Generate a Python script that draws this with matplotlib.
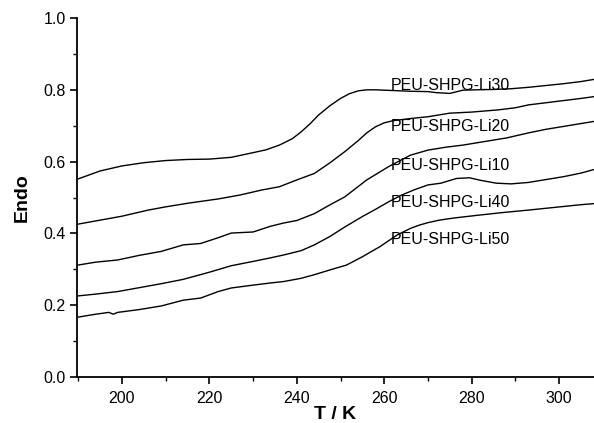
import matplotlib
matplotlib.use("Agg")
import matplotlib.pyplot as plt
from matplotlib.ticker import MultipleLocator, FormatStrFormatter

plt.rcParams['font.family'] = ['Liberation Sans', 'DejaVu Sans']

# Temperature (K) and Endo values
t_li30 = [190, 195, 200, 205, 210, 215, 220, 225, 230, 233, 236, 239, 241, 243, 245, 247.5, 250, 252, 254, 256, 258, 262, 266, 270, 272, 275, 278, 281, 285, 289, 293, 297, 301, 305, 308]
y_li30 = [0.552, 0.574, 0.588, 0.597, 0.603, 0.606, 0.607, 0.612, 0.625, 0.633, 0.646, 0.664, 0.683, 0.705, 0.730, 0.755, 0.776, 0.789, 0.797, 0.800, 0.800, 0.798, 0.796, 0.795, 0.792, 0.790, 0.799, 0.800, 0.801, 0.803, 0.807, 0.812, 0.817, 0.823, 0.829]

t_li20 = [190, 195, 200, 206, 210, 215, 222, 227, 232, 236, 240, 244, 247.5, 251, 254, 256, 258, 260, 262, 266, 270, 275, 280, 286, 290, 293, 297, 301, 305, 308]
y_li20 = [0.426, 0.437, 0.448, 0.465, 0.474, 0.484, 0.496, 0.507, 0.521, 0.530, 0.549, 0.567, 0.596, 0.628, 0.658, 0.680, 0.697, 0.708, 0.714, 0.720, 0.725, 0.735, 0.738, 0.744, 0.750, 0.758, 0.764, 0.770, 0.776, 0.781]

t_li10 = [190, 194, 199, 204, 209, 214, 218, 222, 225, 230, 234, 237, 240, 244, 247.5, 251, 256, 261, 266, 270, 274, 278, 283, 288, 293, 297, 301, 305, 308]
y_li10 = [0.312, 0.320, 0.326, 0.339, 0.350, 0.368, 0.372, 0.388, 0.401, 0.404, 0.420, 0.429, 0.436, 0.455, 0.479, 0.502, 0.549, 0.586, 0.618, 0.632, 0.640, 0.646, 0.656, 0.666, 0.680, 0.690, 0.698, 0.706, 0.712]

t_li40 = [190, 194, 199, 204, 209, 214, 220, 225, 230, 234, 237, 241, 244, 247.5, 251, 255, 258, 261, 264, 267, 270, 273, 276.5, 279.5, 282, 285.6, 289, 293, 297, 301, 305, 308]
y_li40 = [0.226, 0.231, 0.238, 0.249, 0.260, 0.272, 0.292, 0.310, 0.322, 0.332, 0.340, 0.352, 0.368, 0.391, 0.418, 0.447, 0.467, 0.488, 0.507, 0.522, 0.535, 0.540, 0.553, 0.555, 0.548, 0.540, 0.538, 0.542, 0.550, 0.558, 0.568, 0.578]

t_li50 = [190, 194, 197, 198, 199, 204, 209, 214, 218, 222, 225, 230, 234, 237, 241, 244, 247.5, 251.4, 255, 259, 263, 266, 268, 270, 272.6, 276, 281.7, 287, 293, 297, 301, 305, 308]
y_li50 = [0.167, 0.175, 0.180, 0.175, 0.180, 0.188, 0.198, 0.214, 0.220, 0.238, 0.248, 0.256, 0.262, 0.266, 0.275, 0.285, 0.298, 0.312, 0.335, 0.363, 0.396, 0.414, 0.423, 0.430, 0.437, 0.443, 0.451, 0.458, 0.465, 0.470, 0.475, 0.480, 0.483]

labels = ['PEU-SHPG-Li30', 'PEU-SHPG-Li20', 'PEU-SHPG-Li10', 'PEU-SHPG-Li40', 'PEU-SHPG-Li50']
label_y = [0.813, 0.699, 0.588, 0.485, 0.382]
label_x = 261.6

fig = plt.figure(figsize=(5.94, 4.23), dpi=100)
ax = fig.add_axes([0.1296, 0.1087, 0.8704, 0.8487])

for t, y in [(t_li30, y_li30), (t_li20, y_li20), (t_li10, y_li10), (t_li40, y_li40), (t_li50, y_li50)]:
    ax.plot(t, y, color='black', lw=1.0)

for lab, ly in zip(labels, label_y):
    ax.text(label_x, ly, lab, fontsize=11.5, va='center', ha='left', color='black')

ax.set_xlim(189.7, 308)
ax.set_ylim(0.0, 1.0)
ax.xaxis.set_major_locator(MultipleLocator(20))
ax.xaxis.set_minor_locator(MultipleLocator(10))
ax.yaxis.set_major_locator(MultipleLocator(0.2))
ax.yaxis.set_minor_locator(MultipleLocator(0.1))
ax.yaxis.set_major_formatter(FormatStrFormatter('%.1f'))

for s in ['top', 'right']:
    ax.spines[s].set_visible(False)
for s in ['left', 'bottom']:
    ax.spines[s].set_linewidth(1.3)

ax.tick_params(which='major', direction='out', length=5, width=1.2, labelsize=11.5)
ax.tick_params(axis='x', which='major', pad=5)
ax.tick_params(axis='y', which='major', pad=3)
ax.tick_params(which='minor', direction='out', length=3, width=1.0)

ax.set_xlabel('T / K', fontsize=14, fontweight='bold', labelpad=0)
ax.set_ylabel('Endo', fontsize=14, fontweight='bold', labelpad=9)

fig.savefig('out.png', dpi=100)
